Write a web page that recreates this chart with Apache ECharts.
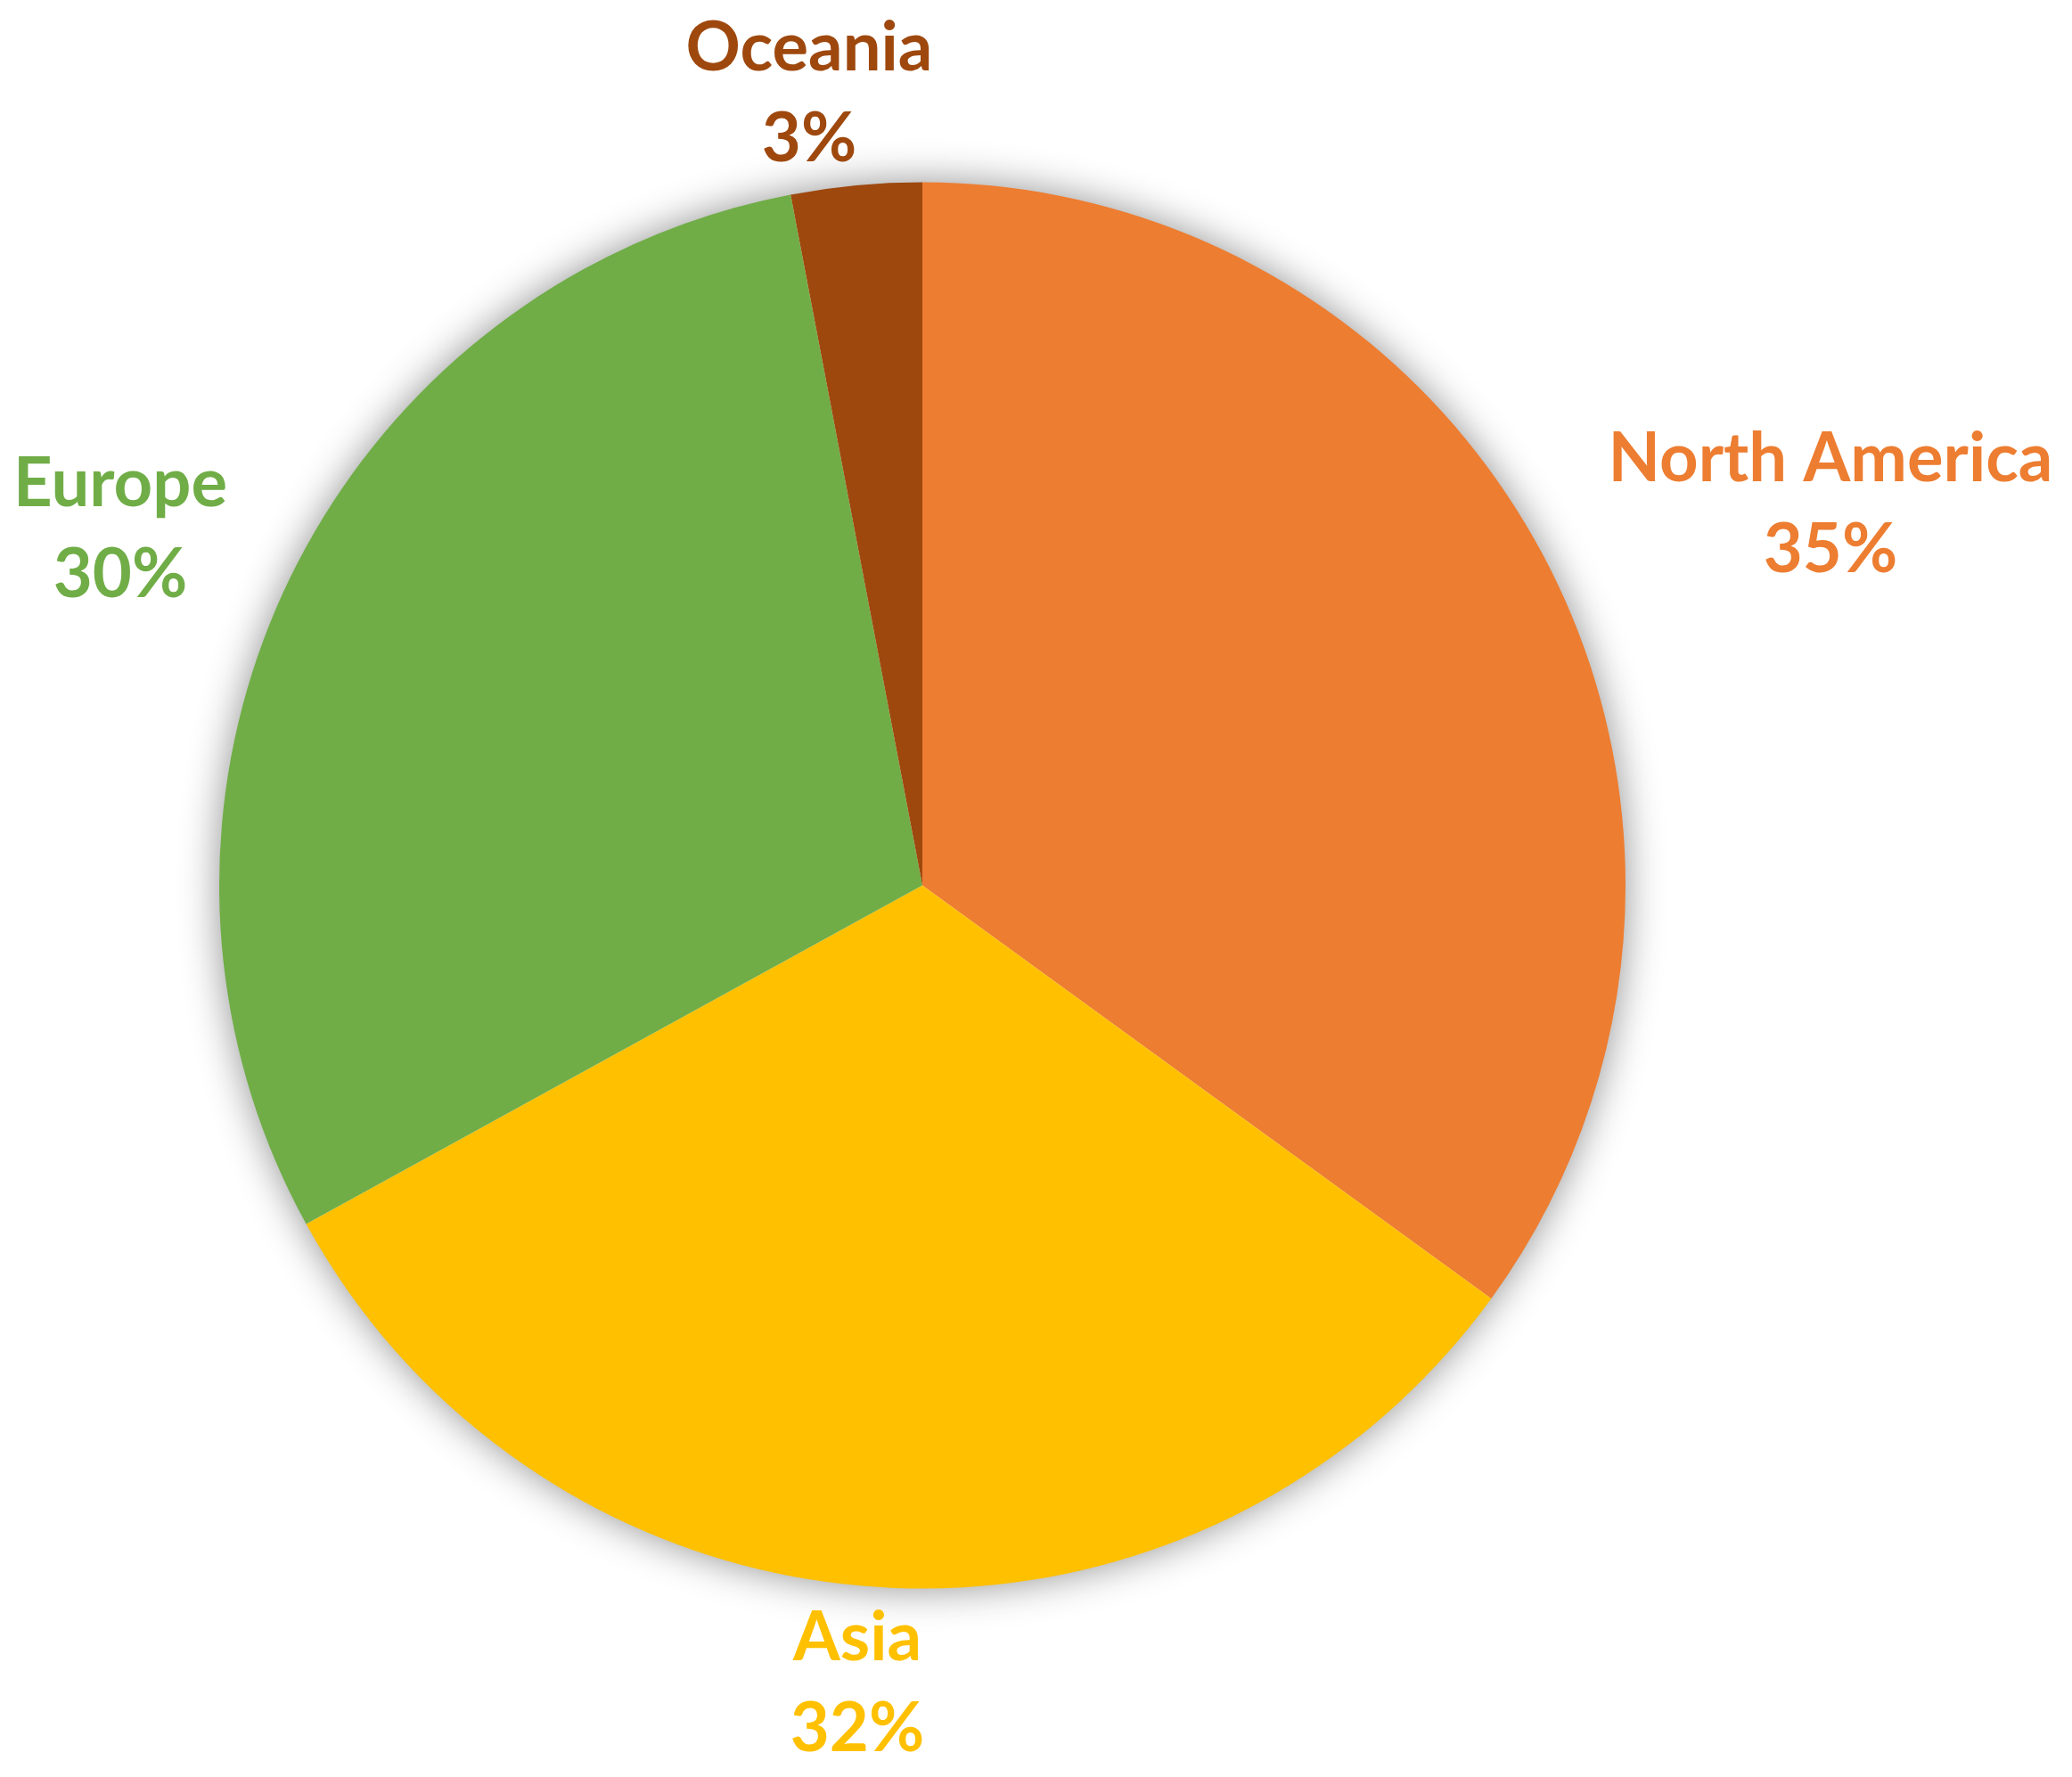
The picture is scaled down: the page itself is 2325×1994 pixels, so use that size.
<!DOCTYPE html>
<html lang="en">
<head>
    <meta charset="UTF-8">
    <title>Share by region</title>
    <script src="https://cdn.jsdelivr.net/npm/echarts@6/dist/echarts.min.js"></script>
    <style>
        html, body { margin: 0; padding: 0; background: #ffffff; }
    </style>
</head>
<body>
<div id="chart-container" style="width: 2325px;height: 1994px;"></div>
</body>
<script type="text/javascript">
    // data
    var regions = ['North America', 'Asia', 'Europe', 'Oceania'];
    var shares = [35, 32, 30, 3];
    var colors = ['#ED7D31', '#FFC000', '#70AD47', '#9E480E'];

    // label centres, placed like the original (px)
    var labelPos = {
        'North America': [2054, 566],
        'Asia': [962, 1889],
        'Europe': [135, 594],
        'Oceania': [908, 105]
    };

    var container = document.getElementById('chart-container');
    var myChart = echarts.init(container);

    var pieData = regions.map(function (name, i) {
        return {
            name: name,
            value: shares[i],
            itemStyle: { color: colors[i] },
            label: { color: colors[i] }
        };
    });

    var option = {
        animation: false,
        backgroundColor: '#ffffff',
        series: [
            {
                // soft shadow behind the whole pie
                type: 'pie',
                silent: true,
                z: 1,
                center: [1035, 993.5],
                radius: 788,
                label: { show: false },
                labelLine: { show: false },
                itemStyle: {
                    color: '#ffffff',
                    shadowBlur: 45,
                    shadowColor: 'rgba(0, 0, 0, 0.45)'
                },
                data: [{ value: 1, name: '' }]
            },
            {
                type: 'pie',
                z: 2,
                silent: true,
                center: [1035, 993.5],
                radius: 789,
                startAngle: 90,
                clockwise: true,
                percentPrecision: 0,
                itemStyle: { borderWidth: 0 },
                label: {
                    show: true,
                    position: 'outside',
                    formatter: '{b}\n{d}%',
                    fontFamily: 'Lato',
                    fontWeight: 'bold',
                    fontSize: 76,
                    lineHeight: 102,
                    align: 'center'
                },
                labelLine: { show: false },
                labelLayout: function (params) {
                    var name = regions[params.dataIndex];
                    var p = labelPos[name];
                    return {
                        x: p[0],
                        y: p[1],
                        align: 'center',
                        verticalAlign: 'middle'
                    };
                },
                data: pieData
            }
        ]
    };

    myChart.setOption(option);
</script>
</html>
